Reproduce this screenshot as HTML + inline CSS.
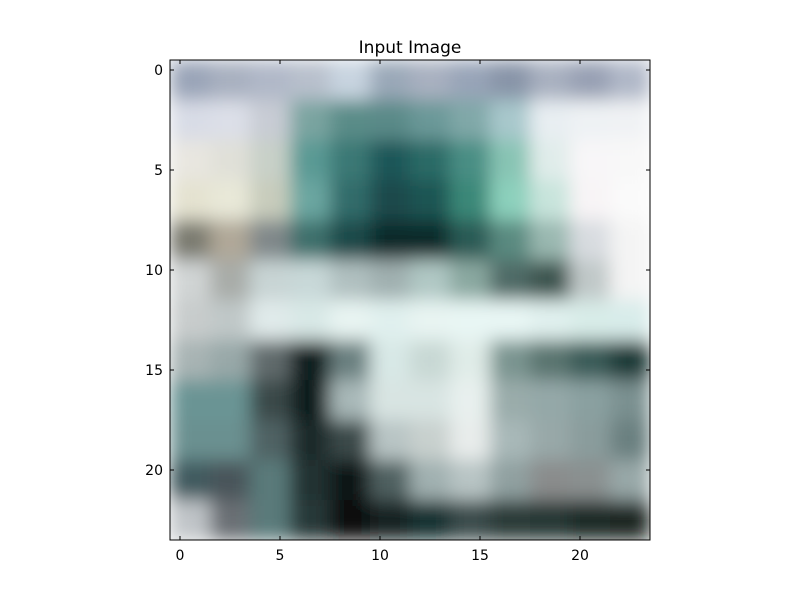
<!DOCTYPE html>
<html><head><meta charset="utf-8"><style>
body{margin:0;background:#fff;}
svg text{font-family:"DejaVu Sans","Liberation Sans",sans-serif;}
</style></head><body>
<svg id="chart" width="800" height="600" xmlns="http://www.w3.org/2000/svg">
<defs>
<filter id="blur" x="0" y="0" width="100%" height="100%"><feGaussianBlur stdDeviation="9" edgeMode="duplicate"/></filter>
<clipPath id="clip"><rect x="170" y="60" width="480" height="480"/></clipPath>
</defs>
<rect width="800" height="600" fill="#fff"/>
<g clip-path="url(#clip)"><g id="cells" filter="url(#blur)"></g></g>
<rect x="170" y="60" width="480" height="480" fill="none" stroke="#000" stroke-width="1"/>
<g id="ticks"></g>
<text x="410" y="53" text-anchor="middle" font-size="17">Input Image</text>
</svg>
<script>
const xTicks=[0,5,10,15,20];
const yTicks=[0,5,10,15,20];
const rows=[
["#9aa4b8","#a8b0c0","#b0b8c8","#b8c0cc","#c8d4e0","#9aa8b8","#a8b0c0","#98a4b8","#8894a8","#a8b0c0","#98a0b4","#b0b8c8"],
["#d8dce6","#dcdfe8","#c8ccd4","#7aa4a0","#5a8c88","#5a8a88","#6a9898","#80a8a8","#a8c8cc","#e8eef2","#eef2f4","#f0f2f4"],
["#e8e6e0","#e0e0d8","#c8d0c8","#5a9a94","#3a7874","#1e5658","#2a6a66","#4a8e84","#88c4b4","#e0ecea","#f8f6f8","#f8f8f8"],
["#e4e2d0","#e8e8d8","#c8ccbc","#6aa6a0","#306c6a","#1a4a4c","#1a5452","#3a8878","#8cd0bc","#c8e4dc","#f8f4f6","#fafafa"],
["#7a7a70","#b0a898","#80888a","#3e706c","#1a4848","#0e2a2c","#0e2a2c","#2a5a54","#5a8a80","#9ab8b0","#d8dce0","#f4f4f4"],
["#d0d4d4","#a8aca8","#c8d4d4","#c8d8d8","#b0c0c0","#a0b0b0","#b0c8c4","#8aa8a0","#506a66","#3c5450","#c0c8c8","#f4f4f4"],
["#c8cccc","#c0c8c8","#e0eaea","#d8e8e6","#e8f4f2","#e0f0ee","#e8f4f2","#e8f6f4","#e8f6f4","#e0f0ee","#d8ece8","#d8ecea"],
["#a8b4b4","#98a8a8","#606a6c","#0e1c1c","#6a8080","#d8e8e6","#c8d8d4","#e0ece8","#7a9490","#5a7470","#3a5c58","#1e3a38"],
["#6a9494","#6a9494","#3a4848","#101c1c","#a8b8b8","#d8e4e2","#d8e4e2","#e8f0ee","#9aacaa","#94a8a8","#8aa0a0","#7a9090"],
["#6a9090","#6a9090","#506264","#1a2a2a","#3a4a4a","#b8c4c4","#c8d0ce","#e8eceb","#a8b8b8","#98a8a8","#8a9c9c","#6a8080"],
["#405a5e","#48545a","#5a7a7a","#203030","#101414","#506060","#a0b0b0","#b8c4c4","#90a0a0","#8a8c8c","#8a9090","#98a8a8"],
["#c0c4c8","#6a7074","#5a7a7a","#283838","#100e10","#182420","#183030","#3a4c4c","#2a3a38","#283834","#1e2c28","#1a2824"]
];
const NS="http://www.w3.org/2000/svg";
const x0=170,y0=60,W=480,H=480,N=24;
const sx=v=>x0+(v+0.5)*W/N, sy=v=>y0+(v+0.5)*H/N;
const g=document.getElementById('cells');
const bs=W/rows[0].length;
rows.forEach((row,r)=>row.forEach((c,ci)=>{
 const e=document.createElementNS(NS,'rect');
 
 
 e.setAttribute('x',x0+ci*bs);e.setAttribute('y',y0+r*bs);
 e.setAttribute('width',bs+0.5);e.setAttribute('height',bs+0.5);e.setAttribute('fill',c);
 g.appendChild(e);
}));
const t=document.getElementById('ticks');
function line(a,b,c,d){const l=document.createElementNS(NS,'line');
 
 
 l.setAttribute('x1',a);l.setAttribute('y1',b);l.setAttribute('x2',c);l.setAttribute('y2',d);l.setAttribute('stroke','#000');t.appendChild(l);}
function txt(x,y,s,anc){const e=document.createElementNS(NS,'text');
 
 
 e.setAttribute('x',x);e.setAttribute('y',y);e.setAttribute('font-size','14');e.setAttribute('text-anchor',anc);e.textContent=s;t.appendChild(e);}
xTicks.forEach(v=>{const x=sx(v);line(x,540,x,536);line(x,60,x,64);txt(x,560,String(v),'middle');});
yTicks.forEach(v=>{const y=sy(v);line(170,y,174,y);line(650,y,646,y);txt(163,y+5,String(v),'end');});
</script>
</body></html>
